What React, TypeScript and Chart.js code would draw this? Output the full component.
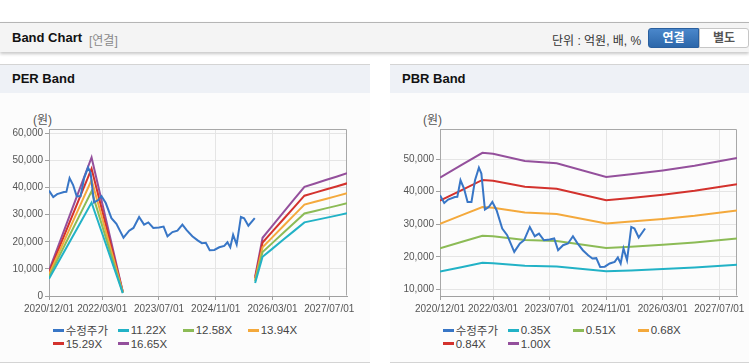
import React, { useEffect, useRef } from 'react';
import { Chart, registerables } from 'chart.js';

Chart.register(...registerables);

const FONT = '"Liberation Sans", Arial, "Noto Sans CJK KR", sans-serif';

// ---- X axis (months since 2020/12) ----
const xTickPos = [0, 15, 31, 47, 63, 79];
const xTickLabels = ['2020/12/01', '2022/03/01', '2023/07/01', '2024/11/01', '2026/03/01', '2027/07/01'];

// ---- Adjusted price (수정주가) ----
const priceMonths = [0, 1.2, 2.3, 4.2, 4.9, 5.8, 6.8, 7.8, 8.9, 9.9, 11.0, 11.7, 12.7, 13.8, 14.8, 16.0, 17.6, 19.0, 21.0, 22.6, 23.8, 25.4, 26.8, 28.0, 29.4, 31.0, 32.3, 33.4, 34.8, 36.2, 37.6, 38.8, 40.4, 41.9, 43.1, 44.2, 45.3, 46.6, 48.0, 49.4, 50.3, 51.1, 51.9, 52.9, 54.1, 55.0, 56.2, 58.0];
const priceValues = [38880, 36530, 37570, 38360, 38400, 43480, 40940, 36830, 36830, 43480, 47370, 45530, 34500, 35300, 36830, 34290, 28690, 26630, 21520, 24090, 25100, 29170, 26330, 27150, 25100, 25300, 25620, 22040, 23570, 24090, 26330, 24280, 22040, 20510, 19490, 19600, 16920, 17000, 17960, 18460, 19800, 17960, 22560, 18980, 29170, 28690, 25930, 28690];

// ---- PER band ----
const perMonths = [0, 3, 6, 9, 12, 15, 18, 20.8, 40, 58.1, 60.2, 63, 66, 69, 72, 75, 78, 81, 84];
const per1122 = [6339, 13363, 20398, 27422, 34445, 23068, 11691, 1077, null, 4813, 14474, 17481, 20712, 23932, 27152, 27983, 28824, 29654, 30496];
const per1258 = [7108, 14983, 22870, 30746, 38621, 25864, 13108, 1208, null, 5397, 16228, 19600, 23223, 26833, 30444, 31375, 32318, 33249, 34192];
const per1394 = [7876, 16603, 25343, 34069, 42796, 28661, 14525, 1338, null, 5980, 17983, 21719, 25733, 29734, 33735, 34766, 35812, 36843, 37889];
const per1529 = [8639, 18210, 27797, 37369, 46940, 31436, 15932, 1468, null, 6559, 19724, 23822, 28225, 32614, 37002, 38133, 39280, 40411, 41558];
const per1665 = [9407, 19830, 30270, 40693, 51116, 34232, 17349, 1598, null, 7143, 21479, 25941, 30736, 35514, 40293, 41525, 42774, 44006, 45255];
const perLabels = ['수정주가', '11.22X', '12.58X', '13.94X', '15.29X', '16.65X'];
const perYTicks = [0, 10000, 20000, 30000, 40000, 50000, 60000];

// ---- PBR band ----
const pbrMonths = [0, 6, 12, 15, 24, 33, 47, 54, 63, 72, 84];
const pbr035 = [15505, 16835, 18165, 18060, 17290, 17045, 15575, 15855, 16275, 16765, 17605];
const pbr051 = [22593, 24531, 26469, 26316, 25194, 24837, 22695, 23103, 23715, 24429, 25653];
const pbr068 = [30124, 32708, 35292, 35088, 33592, 33116, 30260, 30804, 31620, 32572, 34204];
const pbr084 = [37212, 40404, 43596, 43344, 41496, 40908, 37380, 38052, 39060, 40236, 42252];
const pbr100 = [44300, 48100, 51900, 51600, 49400, 48700, 44500, 45300, 46500, 47900, 50300];
const pbrLabels = ['수정주가', '0.35X', '0.51X', '0.68X', '0.84X', '1.00X'];
const pbrYTicks = [10000, 20000, 30000, 40000, 50000];

const seriesColors = ['#3876c6', '#22b2c6', '#8cbb56', '#f4a93c', '#d3322d', '#94509c'];

type Series = { label: string; color: string; xs: number[]; ys: (number | null)[] };

const framePlugin = {
  id: 'frame',
  beforeDatasetsDraw(chart: any) {
    const { ctx, chartArea: a } = chart;
    ctx.save();
    ctx.strokeStyle = '#a8a8a8';
    ctx.lineWidth = 1;
    const l = Math.round(a.left) + 0.5;
    const t = Math.round(a.top) + 0.5;
    const r = Math.round(a.right) - 0.5;
    const b = Math.round(a.bottom) - 0.5;
    ctx.beginPath();
    ctx.moveTo(l, b);
    ctx.lineTo(l, t);
    ctx.lineTo(r, t);
    ctx.lineTo(r, b);
    ctx.stroke();
    ctx.restore();
  },
};

function BandCanvas(props: {
  left: number;
  width: number;
  series: Series[];
  yMin: number;
  yMax: number;
  yTicks: number[];
  axisW: number;
  padRight: number;
}) {
  const ref = useRef<HTMLCanvasElement>(null);
  useEffect(() => {
    const { series, yMin, yMax, yTicks, axisW, padRight } = props;
    const chart = new Chart(ref.current as HTMLCanvasElement, {
      type: 'line',
      data: {
        datasets: series.map((s) => ({
          label: s.label,
          data: s.xs.map((x, i) => ({ x, y: s.ys[i] })) as any,
          borderColor: s.color,
          backgroundColor: s.color,
          borderWidth: 2,
          pointRadius: 0,
          tension: 0,
          spanGaps: false,
        })),
      },
      options: {
        responsive: false,
        animation: false,
        events: [],
        layout: { padding: { top: 36, right: padRight, left: 0, bottom: 0 } },
        plugins: { legend: { display: false }, tooltip: { enabled: false } },
        scales: {
          x: {
            type: 'linear',
            min: 0,
            max: 84,
            afterBuildTicks: (axis: any) => {
              axis.ticks = xTickPos.map((v) => ({ value: v }));
            },
            afterFit: (axis: any) => {
              axis.height = 24;
            },
            ticks: {
              autoSkip: false,
              maxRotation: 0,
              padding: 3,
              color: '#555',
              font: { size: 10, family: FONT },
              callback: (_v: any, i: number) => xTickLabels[i],
            },
            grid: { color: '#e5e5e5', tickColor: '#a0a0a0', tickLength: 4 },
            border: { color: '#a0a0a0' },
          },
          y: {
            type: 'linear',
            min: yMin,
            max: yMax,
            afterBuildTicks: (axis: any) => {
              axis.ticks = yTicks.map((v) => ({ value: v }));
            },
            afterFit: (axis: any) => {
              axis.width = axisW;
            },
            ticks: {
              padding: 2,
              color: '#555',
              font: { size: 10, family: FONT },
              callback: (v: any) => Number(v).toLocaleString('en-US'),
            },
            grid: { color: '#e5e5e5', tickColor: '#a0a0a0', tickLength: 4 },
            border: { color: '#a0a0a0' },
          },
        },
      },
      plugins: [framePlugin],
    });
    return () => chart.destroy();
  }, []);
  return (
    <canvas
      ref={ref}
      width={props.width}
      height={227}
      style={{ position: 'absolute', left: props.left, top: 93, width: props.width, height: 227 }}
    />
  );
}

function Legend({ left, labels }: { left: number; labels: string[] }) {
  return (
    <>
      {labels.map((lb, i) => {
        const col = i % 4;
        const row = Math.floor(i / 4);
        return (
          <div
            key={lb}
            style={{
              position: 'absolute',
              left: left + col * 65,
              top: 323 + row * 13.5,
              height: 14,
              display: 'flex',
              alignItems: 'center',
              whiteSpace: 'nowrap',
              font: `11.5px ${FONT}`,
              color: '#444',
            }}
          >
            <span style={{ display: 'inline-block', width: 11, height: 3, background: seriesColors[i], marginRight: 2 }} />
            <span>{lb}</span>
          </div>
        );
      })}
    </>
  );
}

function Panel({ left, width, title }: { left: number; width: number; title: string }) {
  return (
    <div
      style={{
        position: 'absolute',
        left,
        top: 64,
        width,
        height: 297,
        borderTop: '1px solid #d4d4d4',
        borderBottom: '1px solid #d4d4d4',
        background: '#fcfcfc',
      }}
    >
      <div
        style={{
          height: 28,
          background: '#eef1f6',
          font: `bold 13px ${FONT}`,
          color: '#111',
          lineHeight: '28px',
          paddingLeft: 12,
        }}
      >
        {title}
      </div>
    </div>
  );
}

export default function App() {
  const perSeries: Series[] = [
    { label: perLabels[0], color: seriesColors[0], xs: priceMonths, ys: priceValues },
    { label: perLabels[1], color: seriesColors[1], xs: perMonths, ys: per1122 },
    { label: perLabels[2], color: seriesColors[2], xs: perMonths, ys: per1258 },
    { label: perLabels[3], color: seriesColors[3], xs: perMonths, ys: per1394 },
    { label: perLabels[4], color: seriesColors[4], xs: perMonths, ys: per1529 },
    { label: perLabels[5], color: seriesColors[5], xs: perMonths, ys: per1665 },
  ];
  const pbrSeries: Series[] = [
    { label: pbrLabels[0], color: seriesColors[0], xs: priceMonths, ys: priceValues },
    { label: pbrLabels[1], color: seriesColors[1], xs: pbrMonths, ys: pbr035 },
    { label: pbrLabels[2], color: seriesColors[2], xs: pbrMonths, ys: pbr051 },
    { label: pbrLabels[3], color: seriesColors[3], xs: pbrMonths, ys: pbr068 },
    { label: pbrLabels[4], color: seriesColors[4], xs: pbrMonths, ys: pbr084 },
    { label: pbrLabels[5], color: seriesColors[5], xs: pbrMonths, ys: pbr100 },
  ];

  return (
    <div
      style={{
        position: 'absolute',
        left: 0,
        top: 0,
        width: 749,
        height: 364,
        overflow: 'hidden',
        background: '#fff',
        fontFamily: FONT,
      }}
    >
      {/* header */}
      <div
        style={{
          position: 'absolute',
          left: 0,
          top: 22,
          width: 749,
          height: 29,
          borderTop: '1px solid #b5b5b5',
          background: '#f4f4f4',
          boxShadow: '0 2px 3px rgba(0,0,0,0.22)',
        }}
      />
      <div style={{ position: 'absolute', left: 12, top: 30, font: `bold 13px ${FONT}`, color: '#111' }}>
        Band Chart
      </div>
      <div style={{ position: 'absolute', left: 89, top: 31, font: `12px ${FONT}`, color: '#8a8a8a' }}>[연결]</div>
      <div style={{ position: 'absolute', left: 552, top: 31, font: `12px ${FONT}`, color: '#333' }}>
        단위 : 억원, 배, %
      </div>
      <div
        style={{
          position: 'absolute',
          left: 648,
          top: 28,
          width: 51,
          height: 20,
          boxSizing: 'border-box',
          background: 'linear-gradient(#4a87cb, #2c67aa)',
          border: '1px solid #2a5f9e',
          borderRadius: '3px 0 0 3px',
          color: '#fff',
          font: `bold 12px ${FONT}`,
          textAlign: 'center',
          lineHeight: '18px',
        }}
      >
        연결
      </div>
      <div
        style={{
          position: 'absolute',
          left: 699,
          top: 28,
          width: 50,
          height: 20,
          boxSizing: 'border-box',
          background: '#fff',
          border: '1px solid #c6c6c6',
          borderRadius: '0 3px 3px 0',
          color: '#555',
          font: `bold 12px ${FONT}`,
          textAlign: 'center',
          lineHeight: '18px',
        }}
      >
        별도
      </div>

      {/* panels */}
      <Panel left={0} width={370} title="PER Band" />
      <Panel left={390} width={370} title="PBR Band" />

      <div style={{ position: 'absolute', left: 33, top: 110, font: `12px ${FONT}`, color: '#555' }}>(원)</div>
      <div style={{ position: 'absolute', left: 423, top: 110, font: `12px ${FONT}`, color: '#555' }}>(원)</div>

      <BandCanvas left={0} width={370} series={perSeries} yMin={0} yMax={61600} yTicks={perYTicks} axisW={49} padRight={23} />
      <BandCanvas left={390} width={359} series={pbrSeries} yMin={8000} yMax={59200} yTicks={pbrYTicks} axisW={50} padRight={12} />

      <Legend left={52.7} labels={perLabels} />
      <Legend left={442.7} labels={pbrLabels} />
    </div>
  );
}
